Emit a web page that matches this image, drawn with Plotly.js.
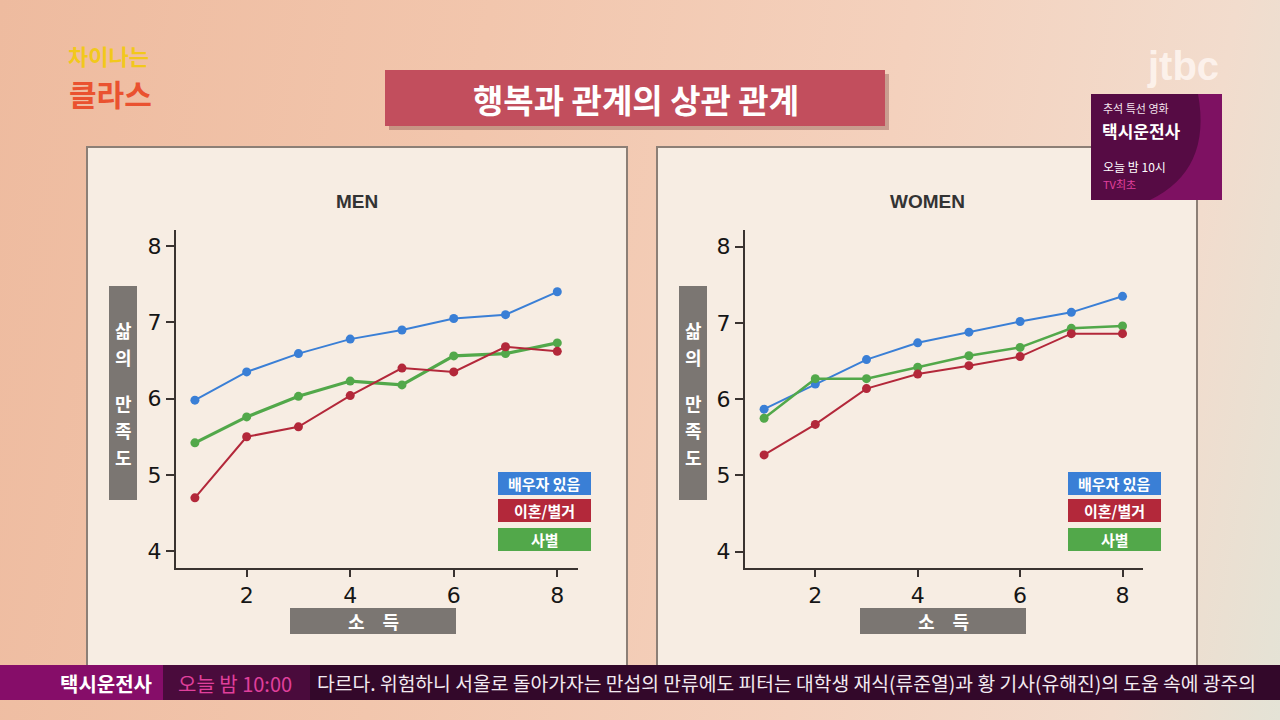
<!DOCTYPE html>
<html>
<head>
<meta charset="utf-8">
<script src="https://cdn.plot.ly/plotly-3.0.1.min.js"></script>
<style>
html,body{margin:0;padding:0;width:1280px;height:720px;overflow:hidden;}
body{background:linear-gradient(100deg,#eebb9f 0%,#f2c6ad 35%,#f4d1bd 65%,#f2dccd 88%,#e4e3d6 100%);}
#chart{width:1280px;height:720px;}
</style>
</head>
<body>
<div id="chart"></div>
<script>
// ---- data ----
const income = [1, 2, 3, 4, 5, 6, 7, 8];
const seriesNames = ["배우자 있음", "이혼/별거", "사별"];
const menMarried  = [5.98, 6.35, 6.59, 6.78, 6.90, 7.05, 7.10, 7.40];
const menDivorced = [4.70, 5.50, 5.63, 6.04, 6.40, 6.35, 6.68, 6.62];
const menWidowed  = [5.42, 5.76, 6.03, 6.23, 6.18, 6.56, 6.59, 6.73];
const womenMarried  = [5.87, 6.20, 6.52, 6.74, 6.88, 7.02, 7.14, 7.35];
const womenDivorced = [5.27, 5.67, 6.14, 6.33, 6.44, 6.56, 6.86, 6.86];
const womenWidowed  = [5.75, 6.27, 6.27, 6.42, 6.57, 6.68, 6.93, 6.96];
const xTicks = [2, 4, 6, 8];
const yTicks = [4, 5, 6, 7, 8];
const panelTitles = ["MEN", "WOMEN"];
const yTitleChars = ["삶", "의", "만", "족", "도"];
const xTitle = "소　득";
const mainTitle = "행복과 관계의 상관 관계";

// ---- helpers (pixel -> paper) ----
const W = 1280, H = 720;
const px = x => x / W;
const py = y => 1 - y / H;
const colors = ["#3a7fd6", "#b3283a", "#52a84a"];
const KR = "Noto Sans CJK KR, Noto Sans, sans-serif";

function trace(y, i, xa, ya, lw) {
  return {x: income, y: y, xaxis: xa, yaxis: ya, type: "scatter", mode: "lines+markers",
    name: seriesNames[i], showlegend: false,
    line: {color: colors[i], width: lw}, marker: {color: colors[i], size: 9}};
}
const data = [
  trace(menMarried, 0, "x", "y", 2), trace(menWidowed, 2, "x", "y", 3.2), trace(menDivorced, 1, "x", "y", 2),
  trace(womenMarried, 0, "x2", "y2", 2), trace(womenWidowed, 2, "x2", "y2", 2.5), trace(womenDivorced, 1, "x2", "y2", 2)
];

function axisX(domain, range, anchor) {
  return {domain: domain, range: range, anchor: anchor, tickvals: xTicks, ticks: "outside", ticklen: 7, tickwidth: 2,
    tickcolor: "#3a3330", showline: true, linecolor: "#3a3330", linewidth: 2, showgrid: false, zeroline: false,
    tickfont: {family: "DejaVu Sans", size: 22, color: "#151515"}, fixedrange: true};
}
function axisY(domain, range, anchor) {
  return {domain: domain, range: range, anchor: anchor, tickvals: yTicks, ticks: "outside", ticklen: 8, tickwidth: 2,
    tickcolor: "#3a3330", showline: true, linecolor: "#3a3330", linewidth: 2, showgrid: false, zeroline: false,
    tickfont: {family: "DejaVu Sans", size: 22, color: "#151515"}, fixedrange: true};
}

const shapes = [];
const annotations = [];
function rect(x0, y0, x1, y1, fill, line, lw, layer) {
  shapes.push({type: "rect", xref: "paper", yref: "paper", x0: px(x0), x1: px(x1), y0: py(y1), y1: py(y0),
    fillcolor: fill, line: {color: line || fill, width: lw === undefined ? 0 : lw}, layer: layer || "below"});
}
function text(x, y, t, size, color, opts) {
  annotations.push(Object.assign({xref: "paper", yref: "paper", x: px(x), y: py(y), text: t, showarrow: false,
    xanchor: "center", yanchor: "middle", font: {family: KR, size: size, color: color}}, opts || {}));
}

// panels
[[87, 627], [657, 1197]].forEach(([a, b]) => rect(a, 147, b, 672, "#f7ede3", "#8c7f76", 2));

// per-panel decorations
[0, 570].forEach((dx, k) => {
  text(357 + dx, 201, "<b>" + panelTitles[k] + "</b>", 18, "#333333", {font: {family: "Liberation Sans", size: 19, color: "#333"}});
  // y title box
  rect(109 + dx, 286, 137 + dx, 500, "#7b7672");
  const ys = [330, 357, 403, 430, 457];
  yTitleChars.forEach((c, i) => text(123 + dx, ys[i], "<b>" + c + "</b>", 18, "#ffffff"));
  // x title box
  rect(290 + dx, 608, 456 + dx, 634, "#7b7672");
  text(373 + dx, 621, "<b>" + xTitle + "</b>", 18, "#ffffff");
  // legend boxes
  const ly = [[472, 495], [499, 522], [528, 551]];
  seriesNames.forEach((n, i) => {
    rect(498 + dx, ly[i][0], 591 + dx, ly[i][1], colors[i]);
    text(544.5 + dx, (ly[i][0] + ly[i][1]) / 2, "<b>" + n + "</b>", 15, "#ffffff");
  });
});

// main title banner
rect(389, 74, 889, 130, "rgba(120,60,60,0.35)");
rect(385, 70, 885, 126, "#c24e5d");
text(636, 99, "<b>" + mainTitle + "</b>", 33, "#ffffff");

// top-left show logo
text(108, 55, "<b>차이나는</b>", 22, "#f2c81c");
text(110, 93, "<b>클라스</b>", 30, "#ea5230");

// jtbc logo
text(1183, 66, "<b>jtbc</b>", 40, "rgba(255,255,255,0.75)", {font: {family: "Liberation Sans", size: 40, color: "rgba(255,248,244,0.8)"}});

// promo box
rect(1091, 94, 1222, 200, "#560b44");
shapes.push({type: "path", xref: "paper", yref: "paper", layer: "below",
  path: `M ${px(1198)},${py(94)} Q ${px(1212)},${py(170)} ${px(1150)},${py(200)} L ${px(1222)},${py(200)} L ${px(1222)},${py(94)} Z`,
  fillcolor: "#7e1162", line: {width: 0}});
text(1101, 108, "추석 특선 영화", 11, "#f4e6ef", {xanchor: "left"});
text(1100, 130, "<b>택시운전사</b>", 17, "#ffffff", {xanchor: "left"});
text(1101, 166, "오늘 밤 10시", 12, "#ffffff", {xanchor: "left"});
text(1101, 184, "TV최초", 11, "#e0409c", {xanchor: "left"});

// bottom ticker
rect(0, 665, 1280, 700, "#33082a", "#33082a", 0, "above");
rect(0, 665, 163, 700, "#860d69", "#860d69", 0, "above");
rect(163, 665, 310, 700, "#4a0b3c", "#4a0b3c", 0, "above");
text(106, 683, "<b>택시운전사</b>", 20, "#ffffff");
text(235, 683, "오늘 밤 10:00", 20, "#e0409c");
text(315, 683, "다르다. 위험하니 서울로 돌아가자는 만섭의 만류에도 피터는 대학생 재식(류준열)과 황 기사(유해진)의 도움 속에 광주의", 19.3, "#f2eaf0", {xanchor: "left"});

const layout = {
  width: W, height: H, margin: {l: 0, r: 0, t: 0, b: 0},
  paper_bgcolor: "rgba(0,0,0,0)", plot_bgcolor: "rgba(0,0,0,0)",
  xaxis: axisX([px(176), px(578)], [0.635, 8.4], "y"),
  yaxis: axisY([py(568), py(230)], [3.78, 8.21], "x"),
  xaxis2: axisX([px(745), px(1143)], [0.627, 8.4], "y2"),
  yaxis2: axisY([py(568), py(230)], [3.786, 8.22], "x2"),
  shapes: shapes, annotations: annotations, showlegend: false
};
Plotly.newPlot("chart", data, layout, {displayModeBar: false, staticPlot: true});
</script>
</body>
</html>
